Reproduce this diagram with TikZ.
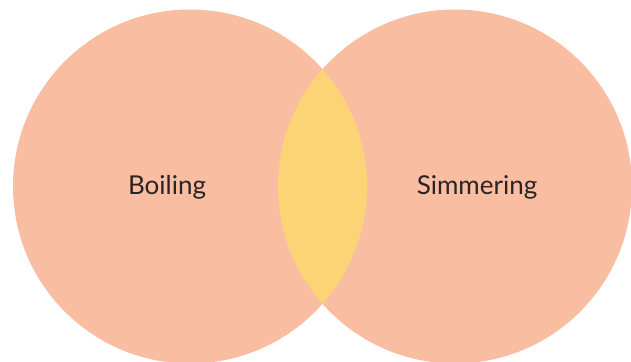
\documentclass[tikz,border=0pt]{standalone}
\usepackage{fontspec}
\setmainfont{Lato}
\usepackage{tikz}
\usetikzlibrary{positioning}
\definecolor{peach}{HTML}{F9BDA1}
\definecolor{lensyellow}{HTML}{FDD475}
\definecolor{inkdark}{HTML}{2A2424}
\tikzset{
  setfill/.style   = {fill=peach},
  overlap/.style   = {fill=lensyellow},
  setlabel/.style  = {font=\fontsize{26}{30}\selectfont, text=inkdark},
}
\newcommand{\rad}{177}

\begin{document}
\begin{tikzpicture}[x=1pt, y=1pt]
  \useasboundingbox (0,0) rectangle (631,361);
  \clip (0,0) rectangle (631,361);
  \coordinate (boilc) at (190,174.5);
  \coordinate (simc)  at (455,174.5);
  % the two sets
  \fill[setfill] (boilc) circle (\rad);
  \fill[setfill] (simc) circle (\rad);
  % overlap
  \begin{scope}
    \clip (boilc) circle (\rad);
    \fill[overlap] (simc) circle (\rad);
  \end{scope}
  \node[setlabel] (boil) at (167,174) {Boiling};
  \node[setlabel] (simm) at (477,174) {Simmering};
\end{tikzpicture}
\end{document}
